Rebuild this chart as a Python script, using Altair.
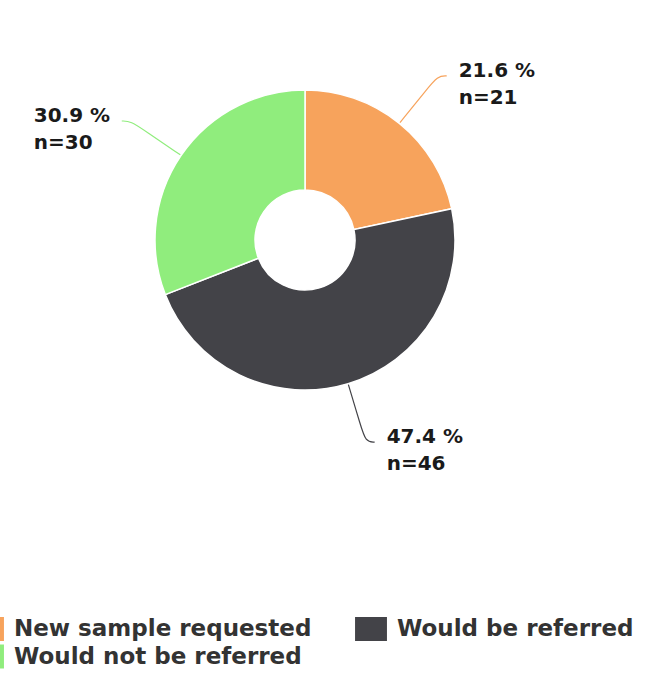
import altair as alt
import pandas as pd

categories = ["New sample requested", "Would be referred", "Would not be referred"]
counts = [21, 46, 30]
pct_labels = ["21.6 %", "47.4 %", "30.9 %"]
n_labels = ["n=21", "n=46", "n=30"]
colors = ["#f7a35c", "#434348", "#90ed7d"]

df = pd.DataFrame({
    "idx": list(range(len(categories))),
    "category": categories,
    "n": counts,
    "pct": pct_labels,
    "nlab": n_labels,
})

R_OUT, R_IN = 150, 50
R_LAB = 211
W, H = 666, 676
CX, CY = 305, 240
LABEL_BLOCK_W = 76  # width of a "dd.d %" label at 20px

xs = alt.Scale(domain=[-CX, W - CX], range=[0, W])
ys = alt.Scale(domain=[-(H - CY), CY], range=[H, 0])

color_scale = alt.Scale(domain=categories, range=colors)

base = alt.Chart(df).transform_joinaggregate(
    total="sum(n)"
).transform_window(
    cum="sum(n)", sort=[alt.SortField("idx")], frame=[None, 0]
).transform_calculate(
    mid="(datum.cum - datum.n/2)/datum.total*2*PI",
).transform_calculate(
    sx="sin(datum.mid)", cy="cos(datum.mid)",
).transform_calculate(
    side="datum.sx >= 0 ? 1 : -1",
    x0=f"{R_OUT + 1}*datum.sx", y0=f"{R_OUT + 1}*datum.cy",
    xm=f"{R_LAB - 18}*datum.sx", ym=f"{R_LAB - 18}*datum.cy",
    x1=f"{R_LAB}*datum.sx", y1=f"{R_LAB}*datum.cy",
).transform_calculate(
    x2="datum.x1 + 9*datum.side",
    xt="datum.x1 + 21*datum.side",
)

arc = alt.Chart(df).mark_arc(
    outerRadius=R_OUT, innerRadius=R_IN, stroke="white", strokeWidth=1.5
).encode(
    theta=alt.Theta("n:Q", stack=True),
    color=alt.Color(
        "category:N", scale=color_scale, sort=categories,
        legend=alt.Legend(
            orient="none", legendX=-24, legendY=617, direction="horizontal",
            columns=2, title=None,
            symbolType="M-1.33,-1H1.33V1H-1.33Z", symbolSize=576,
            symbolStrokeWidth=0, symbolOpacity=1,
            labelFont="DejaVu Sans", labelFontWeight="bold", labelFontSize=23,
            labelColor="#333333", labelOffset=14, labelLimit=600,
            columnPadding=43, rowPadding=3.5, padding=0,
        ),
    ),
    order=alt.Order("idx:Q"),
    x=alt.X(datum=0, type="quantitative", scale=xs, axis=None),
    y=alt.Y(datum=0, type="quantitative", scale=ys, axis=None),
)

lines = base.transform_calculate(
    pts="[0,1,2,3]"
).transform_flatten(["pts"]).transform_calculate(
    px="datum.pts == 0 ? datum.x0 : datum.pts == 1 ? datum.xm : datum.pts == 2 ? datum.x1 : datum.x2",
    py="datum.pts == 0 ? datum.y0 : datum.pts == 1 ? datum.ym : datum.y1",
).mark_line(interpolate="basis", strokeWidth=1.2).encode(
    x=alt.X("px:Q", scale=xs, axis=None),
    y=alt.Y("py:Q", scale=ys, axis=None),
    color=alt.Color("category:N", scale=color_scale, legend=None),
    detail="category:N",
    order="pts:Q",
)


def label_layer(side_expr, field, dx, dy):
    return base.transform_filter(side_expr).mark_text(
        align="left", baseline="middle", dx=dx, dy=dy,
        font="DejaVu Sans", fontWeight="bold", fontSize=20, color="#1a1a1a",
    ).encode(
        x=alt.X("xt:Q", scale=xs, axis=None),
        y=alt.Y("y1:Q", scale=ys, axis=None),
        text=f"{field}:N",
    )


labels = [
    label_layer("datum.side > 0", "pct", 0, -5),
    label_layer("datum.side > 0", "nlab", 0, 22),
    label_layer("datum.side < 0", "pct", -LABEL_BLOCK_W, -5),
    label_layer("datum.side < 0", "nlab", -LABEL_BLOCK_W, 22),
]

chart = alt.layer(arc, lines, *labels).properties(
    width=W, height=H, autosize=alt.AutoSizeParams(type="none"), padding=0,
    background="white",
).configure_view(stroke=None)

chart.save("out.html", embed_options={"renderer": "svg", "actions": False})
